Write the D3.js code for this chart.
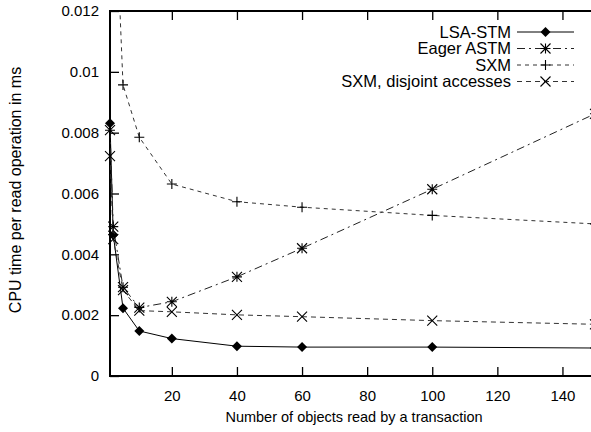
<!DOCTYPE html>
<html><head><meta charset="utf-8">
<script src="https://cdn.jsdelivr.net/npm/d3@7"></script>
<style>body{margin:0;background:#fff}svg{display:block}text{font-family:"Liberation Sans",Arial,sans-serif;fill:#000}</style>
</head><body><svg id="c" width="591" height="432"></svg>
<script>
const xValues = [1, 2, 5, 10, 20, 40, 60, 100, 150];
const lsaStm = [0.00831, 0.00464, 0.00223, 0.00148, 0.00123, 0.00098, 0.00095, 0.00095, 0.00092];
const eagerAstm = [0.00808, 0.00491, 0.00292, 0.00225, 0.00244, 0.00326, 0.00420, 0.00614, 0.00862];
const sxm = [0.03, 0.0173, 0.00957, 0.00785, 0.00631, 0.00573, 0.00555, 0.00528, 0.00500];
const sxmDisjoint = [0.00723, 0.00450, 0.00282, 0.00215, 0.00211, 0.00201, 0.00195, 0.00182, 0.00170];
const seriesNames = ["LSA-STM", "Eager ASTM", "SXM", "SXM, disjoint accesses"];
const yTicks = [0, 0.002, 0.004, 0.006, 0.008, 0.01, 0.012];
const xTicks = [20, 40, 60, 80, 100, 120, 140];

const FS = 15;
const svg = d3.select("#c");
const L = 110, R = 595, T = 11, B = 376;
const x = d3.scaleLinear().domain([1, 150]).range([L, R]);
const y = d3.scaleLinear().domain([0, 0.012]).range([B, T]);

svg.append("defs").append("clipPath").attr("id", "clip")
  .append("rect").attr("x", L).attr("y", T).attr("width", R - L).attr("height", B - T);

const tickLen = 9;
const yAxis = svg.append("g").attr("transform", `translate(${L},0)`)
  .call(d3.axisLeft(y).tickValues(yTicks).tickSize(-tickLen).tickPadding(11)
    .tickFormat(d => d === 0 ? "0" : d3.format("")(+d.toFixed(3))));
const xAxis = svg.append("g").attr("transform", `translate(0,${B})`)
  .call(d3.axisBottom(x).tickValues(xTicks).tickSize(-tickLen).tickPadding(14).tickFormat(d3.format("d")));
const xTop = svg.append("g").attr("transform", `translate(0,${T})`)
  .call(d3.axisTop(x).tickValues(xTicks).tickSize(-tickLen).tickFormat(""));
[yAxis, xAxis, xTop].forEach(g => {
  g.select(".domain").remove();
  g.selectAll(".tick line").attr("stroke", "#000").attr("stroke-width", 1.3);
  g.selectAll("text").attr("font-size", FS).style("font-family", '"Liberation Sans",Arial,sans-serif').attr("fill", "#000");
});
xAxis.selectAll("text").attr("dy", "0.71em");

svg.append("rect").attr("x", L).attr("y", T).attr("width", R - L).attr("height", B - T)
  .attr("fill", "none").attr("stroke", "#000").attr("stroke-width", 2);

const data = [lsaStm, eagerAstm, sxm, sxmDisjoint];
const dashes = [null, "8,4,2,4", "4,4", "5,4"];
const strokes = ["#000", "#222", "#333", "#333"];

function marker(g, i, cx, cy) {
  const s = 5;
  if (i === 0) {
    g.append("path").attr("d", `M${cx},${cy - s}L${cx + s},${cy}L${cx},${cy + s}L${cx - s},${cy}Z`).attr("fill", "#000");
  } else if (i === 1) {
    g.append("path").attr("d", `M${cx - s},${cy}H${cx + s}M${cx},${cy - s}V${cy + s}M${cx - s},${cy - s}L${cx + s},${cy + s}M${cx - s},${cy + s}L${cx + s},${cy - s}`)
      .attr("stroke", "#000").attr("stroke-width", 1.1).attr("fill", "none");
  } else if (i === 2) {
    g.append("path").attr("d", `M${cx - s},${cy}H${cx + s}M${cx},${cy - s}V${cy + s}`)
      .attr("stroke", "#000").attr("stroke-width", 1.1).attr("fill", "none");
  } else {
    g.append("path").attr("d", `M${cx - s},${cy - s}L${cx + s},${cy + s}M${cx - s},${cy + s}L${cx + s},${cy - s}`)
      .attr("stroke", "#000").attr("stroke-width", 1.1).attr("fill", "none");
  }
}

const line = d3.line().x((d, j) => x(xValues[j])).y(d => y(d));
const plot = svg.append("g");
data.forEach((vals, i) => {
  plot.append("path").datum(vals).attr("d", line).attr("fill", "none")
    .attr("stroke", strokes[i]).attr("stroke-width", 1).attr("clip-path", "url(#clip)")
    .attr("stroke-dasharray", dashes[i]);
  const mg = plot.append("g");
  vals.forEach((v, j) => {
    if (v <= 0.012) marker(mg, i, x(xValues[j]), y(v));
  });
});

const lg = svg.append("g");
seriesNames.forEach((n, i) => {
  const ly = 32 + i * 16.5;
  lg.append("text").attr("x", 511).attr("y", ly).attr("dy", "0.35em").attr("text-anchor", "end")
    .attr("font-size", 16.5).text(n);
  lg.append("line").attr("x1", 517).attr("x2", 574).attr("y1", ly).attr("y2", ly)
    .attr("stroke", strokes[i]).attr("stroke-width", 1).attr("stroke-dasharray", dashes[i]);
  marker(lg, i, 545.5, ly);
});

svg.append("text").attr("x", 354).attr("y", 422).attr("text-anchor", "middle")
  .attr("font-size", 14.5).text("Number of objects read by a transaction");
svg.append("text").attr("transform", `translate(21,190) rotate(-90)`).attr("text-anchor", "middle")
  .attr("font-size", 16).text("CPU time per read operation in ms");
</script></body></html>
